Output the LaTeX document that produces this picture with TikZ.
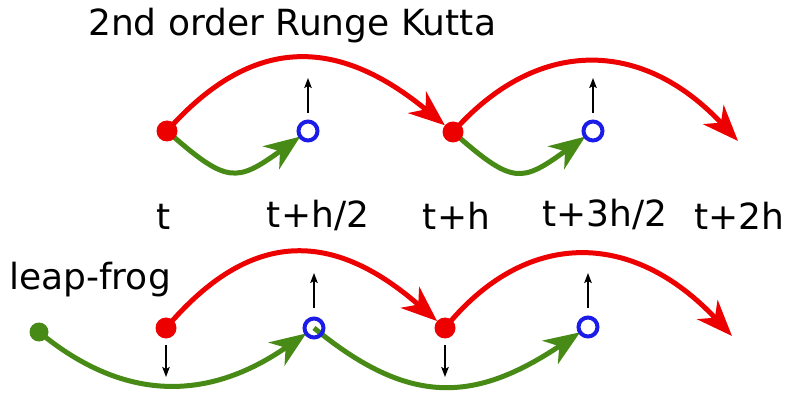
\documentclass[tikz,border=0pt]{standalone}
\usepackage{fontspec}
\setmainfont{DejaVu Sans}
\usetikzlibrary{arrows.meta,backgrounds,calc}
\definecolor{myred}{RGB}{236,0,0}
\definecolor{mygreen}{RGB}{72,138,22}
\definecolor{myblue}{RGB}{28,28,232}
\begin{document}
\begin{tikzpicture}[x=1pt,y=1pt,
  reddot/.style={circle,fill=myred,minimum size=21pt,inner sep=0pt,outer sep=0pt},
  greendot/.style={circle,fill=mygreen,minimum size=19pt,inner sep=0pt,outer sep=0pt},
  ring/.style={circle,draw=myblue,line width=4pt,minimum size=19pt,inner sep=0pt,outer sep=0pt},
  redarc/.style={draw=myred,line width=5pt,-{Stealth[length=36pt,width=28pt,inset=11pt]}},
  greenarc/.style={draw=mygreen,line width=5pt,-{Stealth[length=36pt,width=28pt,inset=11pt]}},
  tick/.style={draw=black,line width=1.6pt,-{Stealth[length=10pt,width=7.5pt,inset=2pt]}},
  lbl/.style={font=\fontsize{36}{40}\selectfont,inner sep=0pt,anchor=base}]
\useasboundingbox (0,0) rectangle (785,394);

% texts
\node[lbl,anchor=base west] (title) at (88,358) {2nd order Runge Kutta};
\node[lbl] (lt) at (163.5,164) {t};
\node[lbl] (lth2) at (318,166) {t+h/2};
\node[lbl] (lth) at (456.5,164) {t+h};
\node[lbl] (lt3h2) at (605,167) {t+3h/2};
\node[lbl] (lt2h) at (739.5,164) {t+2h};
\node[lbl,anchor=base west] (lf) at (9,104) {leap-frog};

% top row
\node[reddot] (r1) at (167,263) {};
\node[ring] (b1) at (308,263) {};
\node[reddot] (r2) at (453,262) {};
\node[ring] (b2) at (593,263) {};
\coordinate (e1) at (738,253);

% bottom row
\node[greendot] (g0) at (39,62) {};
\node[reddot] (r3) at (166,66) {};
\node[ring] (b3) at (314,66) {};
\node[reddot] (r4) at (445,66) {};
\node[ring] (b4) at (588,67) {};
\coordinate (e2) at (732,58);

\begin{scope}[on background layer]
  % top
  \draw[redarc] (r1.center) .. controls +(85,96) and +(-116,96) .. (r2);
  \draw[redarc] (r2.center) .. controls +(84,95) and +(-96,103) .. (e1);
  \draw[greenarc] (r1.center) .. controls +(60,-53) and +(-72,-52) .. (b1);
  \draw[greenarc] (r2.center) .. controls +(60,-53) and +(-72,-52) .. (b2);
  % bottom
  \draw[redarc] (r3.center) .. controls +(84,99) and +(-113,99) .. (r4);
  \draw[redarc] (r4.center) .. controls +(80,99) and +(-100,107) .. (e2);
  \draw[greenarc] (g0.center) .. controls +(86,-71) and +(-105,-73) .. (b3);
  \draw[greenarc] (b3.center) .. controls +(94,-77) and +(-115,-77) .. (b4);
\end{scope}

% small arrows
\draw[tick] ($(b1.center)+(0,18)$) -- ($(b1.center)+(0,53)$);
\draw[tick] ($(b2.center)+(0,18)$) -- ($(b2.center)+(0,53)$);
\draw[tick] ($(b3.center)+(0,20)$) -- ($(b3.center)+(0,55)$);
\draw[tick] ($(b4.center)+(0,19)$) -- ($(b4.center)+(0,54)$);
\draw[tick] ($(r3.center)+(0,-17)$) -- ($(r3.center)+(0,-49)$);
\draw[tick] ($(r4.center)+(0,-17)$) -- ($(r4.center)+(0,-49)$);
\end{tikzpicture}
\end{document}
